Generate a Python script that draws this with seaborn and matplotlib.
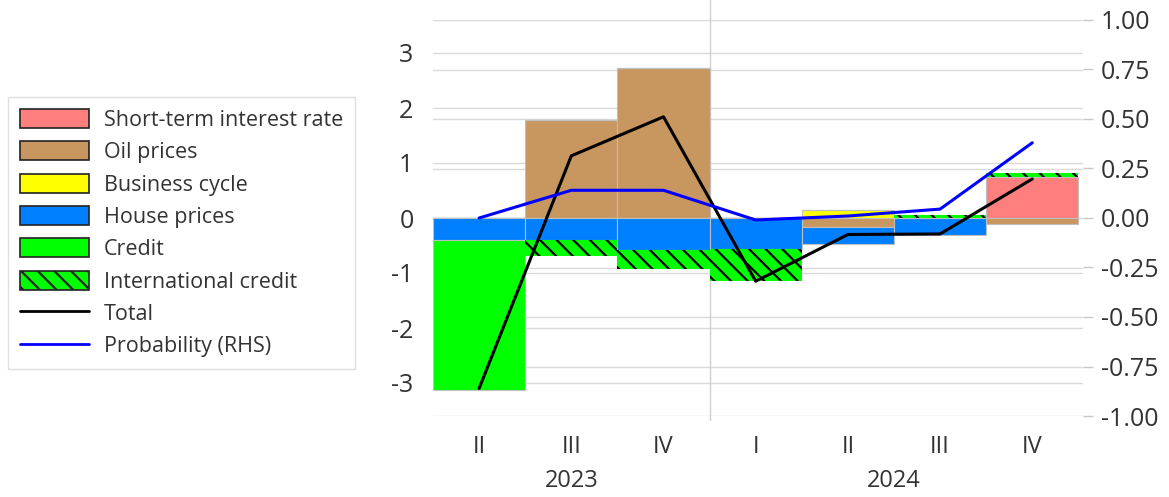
import matplotlib
matplotlib.use("Agg")
import numpy as np
import pandas as pd
import matplotlib.pyplot as plt
import seaborn as sns
from matplotlib.patches import Patch
from matplotlib.lines import Line2D

# data
quarters = ["II", "III", "IV", "I", "II", "III", "IV"]
years = ["2023", "2024"]
short_rate = [0, 0, 0, 0, 0, 0, 0.75]
oil = [0, 1.78, 2.73, 0, -0.17, 0, -0.1]
business = [0, 0, 0, 0, 0.15, 0, 0]
house = [-0.4, -0.4, -0.58, -0.57, -0.31, -0.3, 0]
credit = [-2.72, 0, 0, 0, 0, 0, 0]
intl_credit = [0, -0.29, -0.35, -0.58, 0, 0.05, 0.07]
total = [-3.1, 1.13, 1.84, -1.15, -0.3, -0.29, 0.71]
probability = [0.0, 0.14, 0.14, -0.01, 0.01, 0.045, 0.38]

series = [
    ("Short-term interest rate", short_rate, "#FF7F7F", None),
    ("Oil prices", oil, "#C8965F", None),
    ("Business cycle", business, "#FFFF00", None),
    ("House prices", house, "#0080FF", None),
    ("Credit", credit, "#00FF00", None),
    ("International credit", intl_credit, "#00FF00", "\\\\"),
]

sns.set_theme(style="white")
plt.rcParams["font.family"] = ["Open Sans", "DejaVu Sans"]
plt.rcParams["hatch.linewidth"] = 1.6

fig = plt.figure(figsize=(11.69, 4.97), dpi=100)
ax = fig.add_axes([433 / 1169, 81 / 497, 650 / 1169, 396 / 497])
ax2 = ax.twinx()

x = np.arange(len(quarters))
pos_base = np.zeros(len(quarters))
neg_base = np.zeros(len(quarters))

# stacked bars: positives upward, negatives downward
for name, vals, col, hatch in series:
    vals = np.array(vals, dtype=float)
    bottom = np.where(vals >= 0, pos_base, neg_base)
    if hatch:
        ax.bar(x, vals, bottom=bottom, width=1.0, color=col, edgecolor="black",
               linewidth=0, hatch=hatch, zorder=2)
    else:
        ax.bar(x, vals, bottom=bottom, width=1.0, color=col, edgecolor="#BFBFBF",
               linewidth=0.8, zorder=2)
    pos_base += np.where(vals > 0, vals, 0)
    neg_base += np.where(vals < 0, vals, 0)

df = pd.DataFrame({"x": x, "total": total, "prob": probability})
sns.lineplot(data=df, x="x", y="total", ax=ax, color="black", linewidth=2.2, zorder=3)
sns.lineplot(data=df, x="x", y="prob", ax=ax2, color="#0000FF", linewidth=2.2, zorder=3)

ax.set_ylim(-3.6, 3.6)
ax2.set_ylim(-1, 1)
ax.set_xlim(-0.5, 6.55)

# gridlines for both scales, drawn behind bars
for v in range(-3, 4):
    ax.axhline(v, color="#DADADA", linewidth=1, zorder=0)
for p in np.arange(-1, 1.01, 0.25):
    ax.axhline(p * 3.6, color="#DADADA", linewidth=1, zorder=0)

# year separator
ax.axvline(2.5, ymin=-0.01, ymax=1.06, color="#D0D0D0", linewidth=1, clip_on=False, zorder=0)

ax.set_yticks(range(-3, 4))
ax.set_yticklabels([str(v) for v in range(-3, 4)])
ax.tick_params(axis="y", length=0, pad=14, labelsize=18, labelcolor="#333333")
ax.set_xticks(x)
ax.set_xticklabels(quarters)
ax.tick_params(axis="x", length=0, pad=14, labelsize=17, labelcolor="#333333")
ax.set_xlabel("")
ax.set_ylabel("")

ax2.set_yticks(np.arange(-1, 1.01, 0.25))
ax2.set_yticklabels([f"{p:.2f}" for p in np.arange(-1, 1.01, 0.25)])
ax2.tick_params(axis="y", length=7, width=1, color="#C8C8C8", pad=6, labelsize=18,
                labelcolor="#333333", direction="out")
ax2.set_ylabel("")

for a in (ax, ax2):
    for s in a.spines.values():
        s.set_visible(False)

# year labels under the quarter labels
ax.text(1, -0.165, years[0], transform=ax.get_xaxis_transform(), ha="center", va="center",
        fontsize=17, color="#333333")
ax.text(4.5, -0.165, years[1], transform=ax.get_xaxis_transform(), ha="center", va="center",
        fontsize=17, color="#333333")

handles = [Patch(facecolor=col, edgecolor="#222222", linewidth=1.2, hatch=hatch, label=name)
           for name, vals, col, hatch in series]
handles.append(Line2D([], [], color="black", linewidth=2, label="Total"))
handles.append(Line2D([], [], color="#0000FF", linewidth=2, label="Probability (RHS)"))
fig.legend(handles=handles, loc="upper left", bbox_to_anchor=(8 / 1169, 1 - 97 / 497),
           borderaxespad=0, fontsize=15.5, frameon=True, edgecolor="#D8D8D8", fancybox=False,
           handlelength=3.2, handleheight=1.0, handletextpad=0.7, labelspacing=0.48,
           borderpad=0.55, labelcolor="#333333")

fig.savefig("out.png", dpi=100)
